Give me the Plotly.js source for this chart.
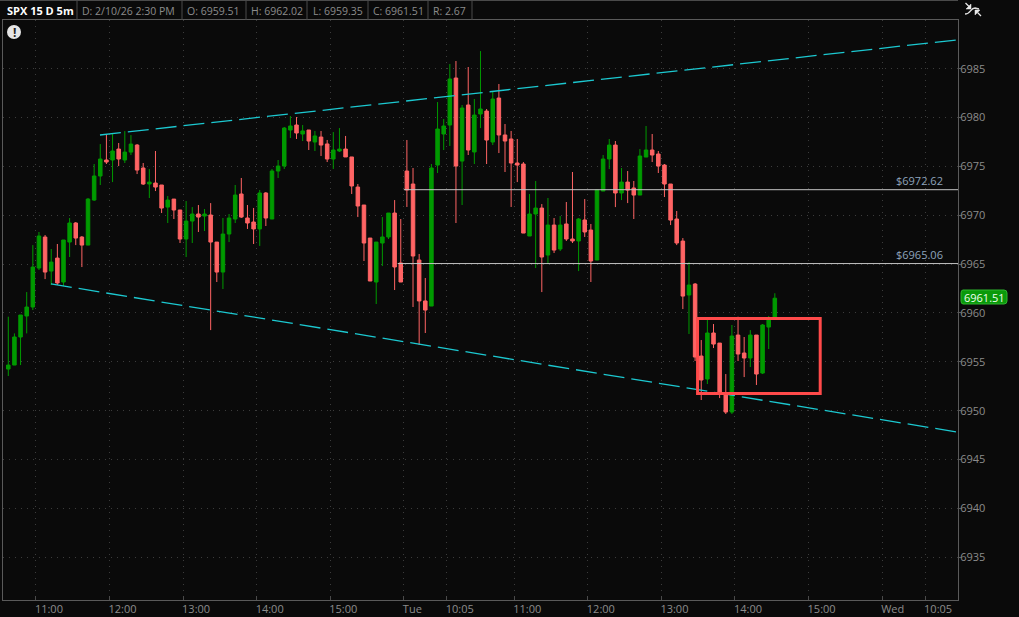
<!DOCTYPE html>
<html>
<head>
<meta charset="utf-8">
<script src="https://cdn.plot.ly/plotly-3.0.1.min.js"></script>
<style>html,body{margin:0;padding:0;background:#0a0a0a;overflow:hidden}#chart{width:1019px;height:617px}</style>
</head>
<body>
<div id="chart"></div>
<script>
const opens = [6954.26,6954.67,6957.54,6959.69,6960.61,6964.60,6967.77,6964.29,6965.62,6963.17,
6967.26,6969.21,6967.77,6966.95,6971.56,6974.02,6975.66,6975.66,6976.78,6975.66,
6976.47,6977.19,6974.84,6973.20,6973.30,6973.10,6970.84,6971.66,6970.54,6967.57,
6969.41,6970.13,6969.92,6970.03,6967.26,6964.19,6968.08,6969.62,6972.18,6969.72,
6969.31,6968.60,6972.28,6969.62,6974.53,6975.04,6978.73,6979.24,6978.32,6978.73,
6977.50,6978.01,6977.30,6975.76,6976.58,6976.78,6975.97,6972.89,6971.05,6967.67,
6963.17,6967.16,6967.78,6970.23,6965.12,6974.53,6973.20,6965.42,6961.23,6960.71,
6975.14,6978.32,6979.24,6984.05,6975.55,6981.29,6976.48,6980.37,6980.67,6977.50,
6982.00,6978.22,6977.81,6975.35,6975.25,6967.88,6970.13,6970.74,6965.93,6969.00,
6966.55,6969.11,6967.57,6967.37,6969.52,6968.49,6965.42,6972.48,6975.76,6977.19,
6972.28,6973.40,6972.79,6972.07,6975.96,6976.68,6976.27,6975.14,6973.20,6969.62,
6967.36,6961.84,6962.96,6955.59,6953.24,6957.95,6956.92,6951.60,6949.86,6957.74,
6955.90,6955.39,6957.74,6953.85,6958.56,6959.51];
const highs = [6959.62,6957.91,6959.79,6962.14,6966.95,6968.29,6967.98,6966.55,6967.06,6967.47,
6969.72,6969.31,6967.88,6971.77,6975.25,6977.29,6978.32,6978.32,6977.40,6978.62,
6978.21,6977.29,6975.35,6974.73,6976.58,6973.10,6971.97,6971.66,6970.54,6971.46,
6970.84,6971.05,6970.64,6971.25,6967.26,6969.72,6970.13,6973.10,6973.82,6971.05,
6970.75,6972.59,6972.38,6974.74,6975.66,6979.04,6980.16,6980.06,6979.24,6978.73,
6978.63,6978.63,6977.71,6978.52,6978.93,6978.12,6975.97,6973.20,6971.05,6967.67,
6967.26,6969.82,6970.23,6971.56,6969.62,6977.71,6974.84,6966.04,6963.58,6975.25,
6981.59,6979.85,6985.48,6985.79,6981.29,6985.18,6981.90,6986.81,6980.88,6982.62,
6983.44,6979.34,6978.63,6977.81,6975.45,6972.18,6973.51,6971.15,6971.77,6969.72,
6969.92,6971.36,6974.43,6969.72,6971.66,6969.11,6972.59,6976.17,6977.81,6977.60,
6974.84,6974.53,6973.51,6976.78,6979.14,6978.32,6976.58,6975.25,6973.20,6970.44,
6967.67,6965.21,6963.07,6957.23,6959.28,6958.87,6956.92,6953.75,6958.77,6959.62,
6957.54,6958.25,6957.74,6958.87,6959.69,6962.02];
const lows = [6953.55,6954.67,6954.67,6957.91,6960.30,6964.40,6963.47,6962.86,6962.86,6962.76,
6965.73,6966.95,6964.70,6966.95,6971.46,6973.10,6975.25,6973.40,6975.04,6975.35,
6976.17,6974.22,6973.10,6971.77,6972.48,6970.23,6969.21,6969.62,6967.16,6965.73,
6967.16,6968.29,6968.39,6958.25,6963.17,6962.45,6967.26,6969.21,6969.72,6968.60,
6967.06,6966.86,6968.90,6969.62,6973.82,6974.74,6977.91,6977.81,6977.60,6976.68,
6976.58,6976.07,6975.45,6974.74,6976.48,6975.97,6972.18,6969.82,6965.32,6963.27,
6960.92,6964.81,6967.57,6962.35,6963.17,6970.85,6960.61,6956.72,6957.95,6960.71,
6974.33,6976.68,6977.09,6969.21,6971.05,6976.17,6975.25,6978.93,6975.25,6977.19,
6976.37,6974.43,6970.85,6973.40,6968.18,6967.88,6964.60,6962.14,6965.01,6966.14,
6966.34,6967.37,6967.16,6964.29,6967.78,6963.17,6965.42,6972.48,6974.73,6970.84,
6971.56,6971.25,6969.62,6972.07,6975.96,6975.45,6974.33,6971.87,6969.00,6966.95,
6960.40,6957.85,6955.08,6951.09,6952.73,6956.41,6951.29,6949.66,6949.66,6955.08,
6953.44,6954.47,6952.63,6953.75,6956.31,6959.35];
const closes = [6954.67,6957.54,6959.79,6960.61,6964.70,6967.88,6964.19,6965.21,6963.07,6967.47,
6969.21,6967.67,6966.95,6971.66,6974.02,6975.76,6975.45,6976.58,6975.76,6976.47,
6977.29,6974.63,6973.20,6973.40,6972.89,6970.74,6971.56,6970.54,6967.57,6969.41,
6970.13,6969.82,6970.13,6967.26,6964.19,6968.08,6969.72,6972.07,6969.82,6969.21,
6968.60,6972.28,6969.72,6974.53,6975.04,6978.93,6979.14,6978.42,6978.63,6977.60,
6978.12,6977.19,6975.76,6976.68,6976.78,6975.97,6973.00,6970.95,6967.16,6963.27,
6967.26,6967.78,6970.23,6964.71,6963.17,6972.59,6965.83,6961.23,6960.30,6974.84,
6978.83,6979.14,6983.95,6975.04,6980.98,6976.68,6980.26,6980.88,6977.70,6981.90,
6978.22,6977.60,6975.35,6975.14,6968.18,6970.13,6970.74,6965.73,6969.00,6966.44,
6969.00,6967.57,6967.37,6969.62,6968.29,6965.32,6972.59,6975.76,6977.19,6972.28,
6973.40,6972.58,6972.07,6976.07,6976.68,6976.17,6975.04,6973.20,6969.51,6967.16,
6961.73,6962.86,6955.49,6953.14,6957.95,6956.82,6951.70,6949.86,6957.64,6955.80,
6955.39,6957.74,6953.75,6958.77,6959.51,6961.51];

const tickBars = [4.5,16.5,28.5,40.5,52.5,64.5,71.5,82.5,94.5,106.5,118.5,130.5,142.5,149.5];
const tickLabels = ["11:00","12:00","13:00","14:00","15:00","Tue","10:05","11:00","12:00","13:00","14:00","15:00","Wed","10:05"];
const priceTicks = [6935,6940,6945,6950,6955,6960,6965,6970,6975,6980,6985];
const upperTrendBars = [14.95,154.5];
const upperTrendPrices = [6978.22,6987.94];
const lowerTrendBars = [6.96,154.66];
const lowerTrendPrices = [6962.97,6947.82];
const levelPrices = [6972.62,6965.06];
const levelStartBars = [64.5,63.5];
const levelEndBar = 154.87;
const boxBars = [112.4,132.4];
const boxPrices = [6951.76,6959.44];
const headerTexts = ["SPX 15 D 5m","D: 2/10/26 2:30 PM","O: 6959.51","H: 6962.02","L: 6959.35","C: 6961.51","R: 2.67"];
const lastPriceLabel = "6961.51";

const L=3,R=958,T=20,B=600,W=1019,H=617;
const px=x=>(x-L)/(R-L), py=y=>(B-y)/(B-T);
const font='"Open Sans", sans-serif';
const bars=closes.map((_,i)=>i);

const traces=[{
  type:'candlestick',x:bars,open:opens,high:highs,low:lows,close:closes,
  increasing:{line:{color:'#009a00',width:1},fillcolor:'#009a00'},
  decreasing:{line:{color:'#ff6464',width:1},fillcolor:'#ff6464'},
  whiskerwidth:0,showlegend:false,hoverinfo:'skip'
},{
  type:'scatter',mode:'lines',x:upperTrendBars,y:upperTrendPrices,
  line:{color:'#1cc8d0',width:1.3,dash:'21px,7px'},showlegend:false,hoverinfo:'skip'
},{
  type:'scatter',mode:'lines',x:lowerTrendBars,y:lowerTrendPrices,
  line:{color:'#1cc8d0',width:1.3,dash:'21px,7px'},showlegend:false,hoverinfo:'skip'
}];
levelPrices.forEach((p,k)=>traces.push({
  type:'scatter',mode:'lines',x:[levelStartBars[k],levelEndBar],y:[p,p],
  line:{color:'#c4c4c4',width:1},showlegend:false,hoverinfo:'skip'
}));

const shapes=[
  {type:'rect',xref:'x',yref:'y',x0:boxBars[0],x1:boxBars[1],y0:boxPrices[0],y1:boxPrices[1],
   line:{color:'#ff4a4a',width:3},fillcolor:'rgba(0,0,0,0)',layer:'above'},
  {type:'line',xref:'paper',yref:'paper',x0:px(0),x1:px(R),y0:py(0.5),y1:py(0.5),line:{color:'#4a4a4a',width:1}},
  {type:'circle',xref:'paper',yref:'paper',x0:px(7),x1:px(21),y0:py(25),y1:py(39),fillcolor:'#e6e6e6',line:{width:0}},
  {type:'path',xref:'paper',yref:'paper',fillcolor:'#0a9a0a',line:{color:'#2fb52f',width:1},
   path:`M ${px(963)} ${py(290)} L ${px(1004)} ${py(290)} Q ${px(1007)} ${py(290)} ${px(1007)} ${py(293)} L ${px(1007)} ${py(301)} Q ${px(1007)} ${py(304)} ${px(1004)} ${py(304)} L ${px(963)} ${py(304)} Q ${px(961)} ${py(304)} ${px(961)} ${py(301)} L ${px(961)} ${py(293)} Q ${px(961)} ${py(290)} ${px(963)} ${py(290)} Z`},
  // rescale icon
  {type:'path',xref:'paper',yref:'paper',line:{color:'#e0e0e0',width:1.3},
   path:`M ${px(965)} ${py(14)} C ${px(971)} ${py(14)} ${px(970)} ${py(8)} ${px(975)} ${py(8)} L ${px(979)} ${py(9)}`},
  {type:'path',xref:'paper',yref:'paper',fillcolor:'#e8e8e8',line:{color:'#e8e8e8',width:0.5},
   path:`M ${px(971)} ${py(9)} L ${px(971)} ${py(4)} L ${px(966)} ${py(9)} Z`},
  {type:'line',xref:'paper',yref:'paper',x0:px(965.5),y0:py(3),x1:px(969),y1:py(6.5),line:{color:'#e8e8e8',width:1.3}},
  {type:'path',xref:'paper',yref:'paper',fillcolor:'#e8e8e8',line:{color:'#e8e8e8',width:0.5},
   path:`M ${px(975)} ${py(10)} L ${px(980)} ${py(10)} L ${px(975)} ${py(15)} Z`},
  {type:'line',xref:'paper',yref:'paper',x0:px(981),y0:py(16),x1:px(977.5),y1:py(12.5),line:{color:'#e8e8e8',width:1.3}}
];
[77,182,246,307,368,428,472].forEach(x=>shapes.push(
  {type:'line',xref:'paper',yref:'paper',x0:px(x),x1:px(x),y0:py(1),y1:py(20),line:{color:'#4a4a4a',width:1}}));

const headerX=[6,81,186,250,312,372,432];
const annotations=headerTexts.map((t,i)=>({
  text:i===0?'<b>'+t+'</b>':t,xref:'paper',yref:'paper',x:px(headerX[i]),y:py(10.5),
  xanchor:'left',yanchor:'middle',showarrow:false,borderpad:0,
  font:{family:font,size:i===0?11:10.5,color:i===0?'#ffffff':'#8c8c8c'}
}));
annotations.push(
  {text:'$'+levelPrices[0].toFixed(2),xref:'paper',yref:'y',x:px(943.5),y:levelPrices[0],yshift:9,xanchor:'right',yanchor:'middle',showarrow:false,borderpad:0,font:{family:font,size:11,color:'#8ea4bc'}},
  {text:'$'+levelPrices[1].toFixed(2),xref:'paper',yref:'y',x:px(943.5),y:levelPrices[1],yshift:9,xanchor:'right',yanchor:'middle',showarrow:false,borderpad:0,font:{family:font,size:11,color:'#8ea4bc'}},
  {text:lastPriceLabel,xref:'paper',yref:'paper',x:px(984),y:py(297),xanchor:'center',yanchor:'middle',showarrow:false,borderpad:0,font:{family:font,size:11,color:'#f0fff0'}},
  {text:'<b>!</b>',xref:'paper',yref:'paper',x:px(14),y:py(32),xanchor:'center',yanchor:'middle',showarrow:false,borderpad:0,font:{family:font,size:12,color:'#222222'}}
);

const layout={
  width:W,height:H,
  paper_bgcolor:'#0a0a0a',plot_bgcolor:'#0a0a0a',
  margin:{l:L,r:W-R,t:T,b:H-B,pad:0},
  showlegend:false,boxgap:0.18,dragmode:false,
  font:{family:font,size:11,color:'#8c8c8c'},
  xaxis:{type:'linear',range:[-0.864,154.87],rangeslider:{visible:false},
    tickmode:'array',tickvals:tickBars,ticktext:tickLabels,
    ticks:'inside',ticklen:4,tickcolor:'#4a4a4a',tickwidth:1,
    ticklabelposition:'outside right',ticklabelshift:-2,ticklabelstandoff:-1,
    tickfont:{family:font,size:11,color:'#8c8c8c'},
    showgrid:true,gridcolor:'#3c3c3c',gridwidth:1,griddash:'1px,5px',
    showline:true,linecolor:'#5a5a5a',linewidth:1,mirror:true,zeroline:false,automargin:false},
  yaxis:{side:'right',range:[6930.62,6989.99],
    tickmode:'array',tickvals:priceTicks,ticktext:priceTicks.map(String),
    ticks:'outside',ticklen:2,tickcolor:'#5a5a5a',tickwidth:1,ticklabelstandoff:-3,
    tickfont:{family:font,size:11,color:'#8c8c8c'},
    showgrid:true,gridcolor:'#3c3c3c',gridwidth:1,griddash:'1px,5px',
    showline:true,linecolor:'#5a5a5a',linewidth:1,mirror:true,zeroline:false,automargin:false},
  shapes,annotations
};
Plotly.newPlot('chart',traces,layout,{displayModeBar:false,staticPlot:true});
</script>
</body>
</html>
